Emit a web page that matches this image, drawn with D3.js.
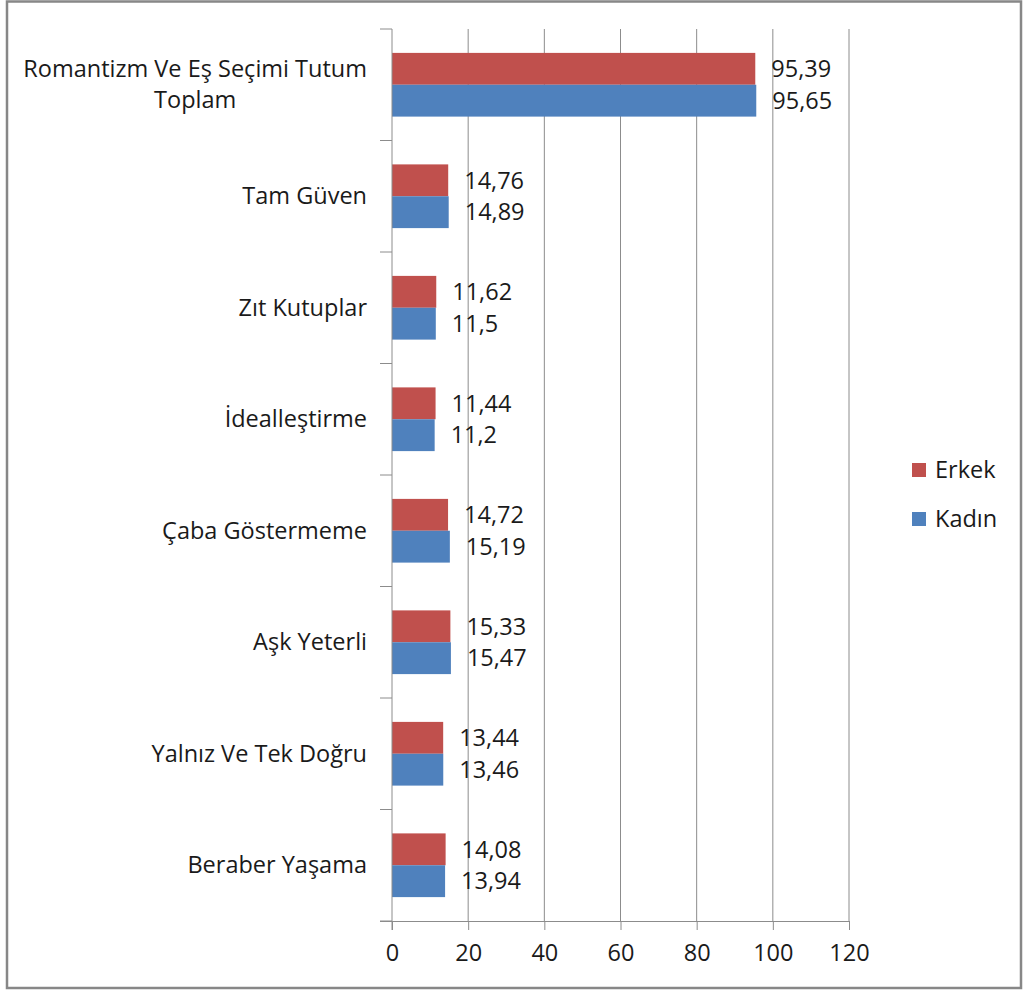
<!DOCTYPE html>
<html>
<head>
<meta charset="utf-8">
<script src="https://cdn.jsdelivr.net/npm/d3@7"></script>
<style>
  body { margin: 0; background: #fff; }
  text { font-family: "Open Sans", "Noto Sans", sans-serif; fill: #1a1a1a; }
</style>
</head>
<body>
<svg id="chart" width="1025" height="992"></svg>
<script>
// data
const categories = [
  "Romantizm Ve Eş Seçimi Tutum Toplam",
  "Tam Güven",
  "Zıt Kutuplar",
  "İdealleştirme",
  "Çaba Göstermeme",
  "Aşk Yeterli",
  "Yalnız Ve Tek Doğru",
  "Beraber Yaşama"
]
const erkek = [95.39, 14.76, 11.62, 11.44, 14.72, 15.33, 13.44, 14.08]
const kadin = [95.65, 14.89, 11.5, 11.2, 15.19, 15.47, 13.46, 13.94]
const xTicks = [0, 20, 40, 60, 80, 100, 120]
const seriesNames = ["Erkek", "Kadın"]
const seriesColors = ["#C0504D", "#4F81BD"]

const svg = d3.select('#chart')
const fontSize = 23.5

// outer frame
svg.append('rect')
  .attr('x', 7).attr('y', 1.5)
  .attr('width', 1014).attr('height', 986.5)
  .attr('fill', 'none')
  .attr('stroke', '#878787')
  .attr('stroke-width', 2.5)

const plot = { left: 392, right: 849, top: 29, bottom: 921 }

const x = d3.scaleLinear()
  .domain([0, 120])
  .range([plot.left, plot.right])

const y = d3.scaleBand()
  .domain(categories)
  .range([plot.top, plot.bottom])

const barH = y.bandwidth() * 0.2857

// gridlines
svg.append('g')
  .selectAll('line')
  .data(xTicks.slice(1))
  .enter().append('line')
  .attr('x1', d => x(d)).attr('x2', d => x(d))
  .attr('y1', plot.top).attr('y2', plot.bottom)
  .attr('stroke', '#8c8c8c')
  .attr('stroke-width', 1)

// bars
const rows = categories.map((c, i) => ({ cat: c, vals: [erkek[i], kadin[i]] }))
const grp = svg.append('g')
rows.forEach(r => {
  r.vals.forEach((v, s) => {
    const yc = y(r.cat) + y.bandwidth() / 2
    const y0 = yc - barH + s * barH
    grp.append('rect')
      .attr('x', x(0))
      .attr('y', y0)
      .attr('width', x(v) - x(0))
      .attr('height', barH)
      .attr('fill', seriesColors[s])
    grp.append('text')
      .attr('x', x(v) + 16)
      .attr('y', y0 + barH / 2)
      .attr('dy', '0.35em')
      .attr('font-size', fontSize)
      .text(String(v).replace('.', ','))
  })
})

// x axis
const xAxis = svg.append('g')
  .attr('transform', `translate(0, ${plot.bottom})`)
  .call(d3.axisBottom(x).tickValues(xTicks).tickSize(9).tickPadding(14))
xAxis.select('.domain')
  .attr('stroke', '#8c8c8c')
  .attr('d', `M${plot.left - 12},0.5H${plot.right}`)
xAxis.selectAll('.tick line').attr('stroke', '#8c8c8c')
xAxis.selectAll('.tick text')
  .attr('font-size', fontSize)
  .attr('font-family', '"Open Sans", "Noto Sans", sans-serif')
  .attr('fill', '#1a1a1a')

// y axis line + ticks at band boundaries
svg.append('line')
  .attr('x1', plot.left).attr('x2', plot.left)
  .attr('y1', plot.top).attr('y2', plot.bottom + 9)
  .attr('stroke', '#8c8c8c')
const bounds = categories.map(c => y(c)).concat([plot.bottom])
svg.append('g').selectAll('line')
  .data(bounds)
  .enter().append('line')
  .attr('x1', plot.left - 12).attr('x2', plot.left)
  .attr('y1', d => d).attr('y2', d => d)
  .attr('stroke', '#8c8c8c')

// category labels
const catG = svg.append('g')
categories.forEach((c, i) => {
  const yc = y(c) + y.bandwidth() / 2
  if (i === 0) {
    const lines = ["Romantizm Ve Eş Seçimi Tutum", "Toplam"]
    const t = catG.append('text')
      .attr('font-size', fontSize)
      .attr('text-anchor', 'middle')
    t.append('tspan').attr('x', 0).attr('y', yc - 15.5).attr('dy', '0.35em').text(lines[0])
    t.append('tspan').attr('x', 0).attr('y', yc + 15.5).attr('dy', '0.35em').text(lines[1])
    const w = t.node().getBBox().width
    t.selectAll('tspan').attr('x', plot.left - 25 - w / 2)
  } else {
    catG.append('text')
      .attr('x', plot.left - 25)
      .attr('y', yc)
      .attr('dy', '0.35em')
      .attr('text-anchor', 'end')
      .attr('font-size', fontSize)
      .text(c)
  }
})

// legend
const legend = svg.append('g').attr('transform', 'translate(912, 463)')
seriesNames.forEach((n, i) => {
  legend.append('rect')
    .attr('x', 0).attr('y', i * 49)
    .attr('width', 14).attr('height', 14)
    .attr('fill', seriesColors[i])
  legend.append('text')
    .attr('x', 23).attr('y', i * 49 + 7)
    .attr('dy', '0.35em')
    .attr('font-size', fontSize)
    .text(n)
})
</script>
</body>
</html>
